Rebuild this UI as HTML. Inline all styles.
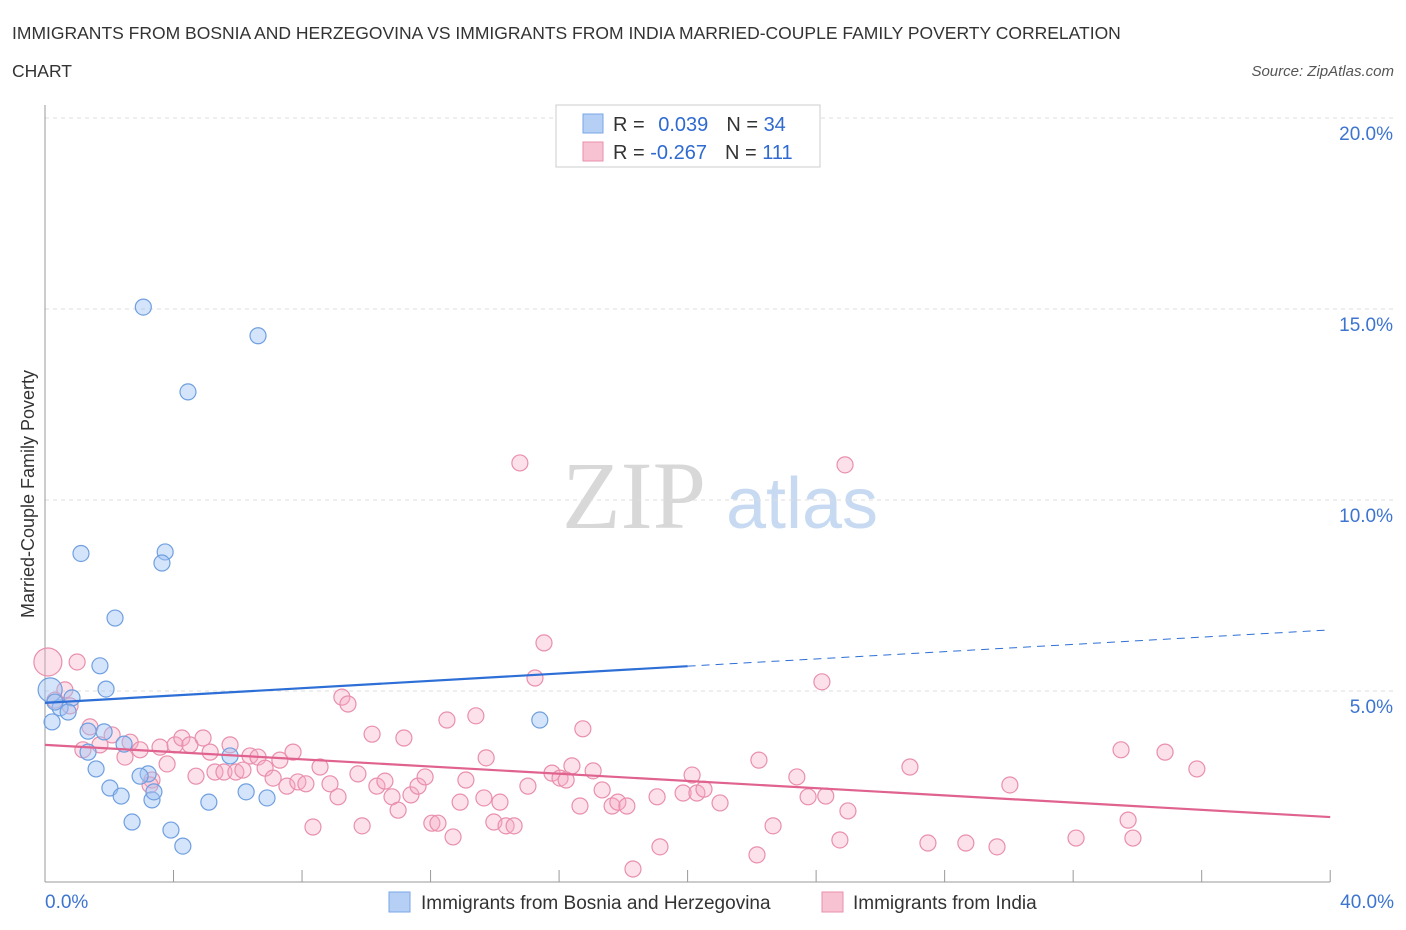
<!DOCTYPE html>
<html><head><meta charset="utf-8"><style>
body{margin:0;width:1406px;height:930px;background:#fff;font-family:"Liberation Sans",sans-serif;overflow:hidden}
svg{position:absolute;left:0;top:0}
</style></head><body>
<svg id="c" width="1406" height="930">
<text x="12" y="39" font-size="17.5" fill="#333">IMMIGRANTS FROM BOSNIA AND HERZEGOVINA VS IMMIGRANTS FROM INDIA MARRIED-COUPLE FAMILY POVERTY CORRELATION</text>
<text x="12" y="77" font-size="17.5" fill="#333">CHART</text>
<text x="1394" y="76" font-size="15" fill="#555" font-style="italic" text-anchor="end">Source: ZipAtlas.com</text>
<text x="634" y="528" font-size="96" fill="#d8d8d8" text-anchor="middle" font-family="Liberation Serif,serif">ZIP</text>
<text x="802" y="528" font-size="72" fill="#c7daf2" text-anchor="middle">atlas</text>
<text transform="translate(34,494) rotate(-90)" font-size="18" fill="#333" text-anchor="middle">Married-Couple Family Poverty</text>
<g id="grid"></g><g id="marks"></g>
<g>
<rect x="556" y="105" width="264" height="62" fill="#fff" stroke="#ccc"/>
<rect x="583" y="114" width="20" height="19" fill="#b6d0f5" stroke="#7aa6e6"/>
<rect x="583" y="142" width="20" height="19" fill="#f7c3d3" stroke="#e98fab"/>
<text x="613" y="131" font-size="20" fill="#333">R = <tspan fill="#2e6ad0" dx="8">0.039</tspan><tspan dx="18" fill="#333">N = </tspan><tspan fill="#2e6ad0">34</tspan></text>
<text x="613" y="159" font-size="20" fill="#333">R = <tspan fill="#2e6ad0">-0.267</tspan><tspan dx="18" fill="#333">N = </tspan><tspan fill="#2e6ad0">111</tspan></text>
</g>
<g>
<rect x="389" y="892" width="21" height="20" fill="#b6d0f5" stroke="#7aa6e6"/>
<text x="421" y="909" font-size="19" fill="#333">Immigrants from Bosnia and Herzegovina</text>
<rect x="822" y="892" width="21" height="20" fill="#f7c3d3" stroke="#e98fab"/>
<text x="853" y="909" font-size="19" fill="#333">Immigrants from India</text>
</g>
<text x="45" y="908" font-size="19" fill="#3c74d0">0.0%</text>
<text x="1394" y="908" font-size="19" fill="#3c74d0" text-anchor="end">40.0%</text>
</svg>
<script>
const yTicks=[5,10,15,20];
const blueX=[3.06,6.63,4.45,1.12,3.74,3.64,2.18,1.71,1.90,0.16,0.84,0.47,0.72,0.22,1.34,1.84,2.46,1.34,1.59,3.21,2.96,5.76,2.02,2.37,3.33,3.39,5.10,6.26,6.91,2.71,3.92,4.29,15.40,0.31];
const blueY=[15.05,14.3,12.83,8.6,8.64,8.35,6.91,5.66,5.05,5.03,4.82,4.56,4.45,4.19,3.95,3.93,3.61,3.4,2.96,2.83,2.77,3.3,2.46,2.25,2.15,2.36,2.09,2.36,2.2,1.57,1.36,0.94,4.24,4.71];
const pinkX=[0.09,1.00,0.62,0.31,0.78,1.40,2.09,1.18,1.71,2.49,2.65,2.96,3.58,3.33,3.27,3.80,4.05,4.26,4.51,4.70,4.92,5.14,5.29,5.57,5.76,5.94,6.16,6.38,6.63,6.85,7.10,7.31,7.53,7.72,7.87,8.12,8.34,8.56,8.87,9.12,9.24,9.43,9.74,9.87,10.18,10.33,10.58,10.80,10.99,11.17,11.39,11.61,11.83,12.04,12.23,12.51,12.70,12.92,13.10,13.41,13.66,13.73,13.97,14.16,14.35,14.60,14.78,15.03,15.53,15.25,15.78,16.03,16.22,16.40,16.65,16.74,17.06,17.34,17.65,17.83,18.11,18.30,19.05,19.14,19.86,20.14,20.29,20.51,21.01,22.16,22.22,22.66,23.40,23.75,24.18,24.30,24.74,24.90,24.99,26.92,27.48,28.66,29.63,30.03,32.09,33.49,33.71,33.86,34.86,35.85];
const pinkY=[5.76,5.76,5.03,4.76,4.61,4.06,3.85,3.46,3.59,3.27,3.66,3.46,3.53,2.67,2.54,3.09,3.59,3.77,3.59,2.77,3.77,3.40,2.88,2.88,3.59,2.88,2.93,3.30,3.27,2.98,2.72,3.19,2.51,3.40,2.62,2.57,1.44,3.01,2.57,2.23,4.84,4.66,2.83,1.47,3.87,2.51,2.64,2.23,1.88,3.77,2.28,2.51,2.75,1.54,1.54,4.24,1.18,2.09,2.67,4.35,2.20,3.25,1.57,2.09,1.47,1.47,10.97,2.51,6.26,5.34,2.85,2.72,2.67,3.04,1.99,4.01,2.91,2.41,1.99,2.09,1.99,0.34,2.23,0.92,2.33,2.80,2.33,2.43,2.07,0.71,3.19,1.47,2.75,2.23,5.24,2.25,1.10,10.92,1.86,3.01,1.02,1.02,0.92,2.54,1.15,3.46,1.62,1.15,3.40,2.96];
const blueTrend=[4.69,5.65,6.6];
const pinkTrend=[3.59,1.7];
const NS='http://www.w3.org/2000/svg';
const X=v=>45+v*32.13, Y=v=>882-v*38.2;
function mk(t,a,p){const e=document.createElementNS(NS,t);for(const k in a)e.setAttribute(k,a[k]);p.appendChild(e);return e;}
const g=document.getElementById('grid'),m=document.getElementById('marks');
for(const t of yTicks){
 const l=mk('line',{x1:45,x2:1394,y1:Y(t),y2:Y(t),stroke:'#ddd','stroke-dasharray':'4,4'},g);
 
 
 const tx=mk('text',{x:1393,y:Y(t)+22,'font-size':19,fill:'#3c74d0','text-anchor':'end'},g);tx.textContent=t.toFixed(1)+'%';
 
 
}
const ax=mk('line',{x1:45,x2:45,y1:105,y2:882,stroke:'#999'},g);


const bx=mk('line',{x1:45,x2:1330,y1:882,y2:882,stroke:'#999'},g);


for(let i=0;i<=10;i++){const tk=mk('line',{x1:X(i*4),x2:X(i*4),y1:870,y2:882,stroke:'#999'},g);
 
 }
pinkX.forEach((x,i)=>{const c=mk('circle',{cx:X(x),cy:Y(pinkY[i]),r:i==0?14:8,fill:'rgba(245,170,195,0.35)',stroke:'#e98fab','stroke-width':1.2},m);
 
 });
blueX.forEach((x,i)=>{const c=mk('circle',{cx:X(x),cy:Y(blueY[i]),r:i==9?12:8,fill:'rgba(160,195,245,0.45)',stroke:'#6f9fe0','stroke-width':1.2},m);
 
 });
const bt=mk('line',{x1:X(0),y1:Y(blueTrend[0]),x2:X(20),y2:Y(blueTrend[1]),stroke:'#2d6fd6','stroke-width':2.2},m);


const bd=mk('line',{x1:X(20),y1:Y(blueTrend[1]),x2:X(40),y2:Y(blueTrend[2]),stroke:'#2d6fd6','stroke-width':1,'stroke-dasharray':'8,6'},m);


const pt=mk('line',{x1:X(0),y1:Y(pinkTrend[0]),x2:X(40),y2:Y(pinkTrend[1]),stroke:'#e0628e','stroke-width':2.2},m);


</script>
</body></html>
